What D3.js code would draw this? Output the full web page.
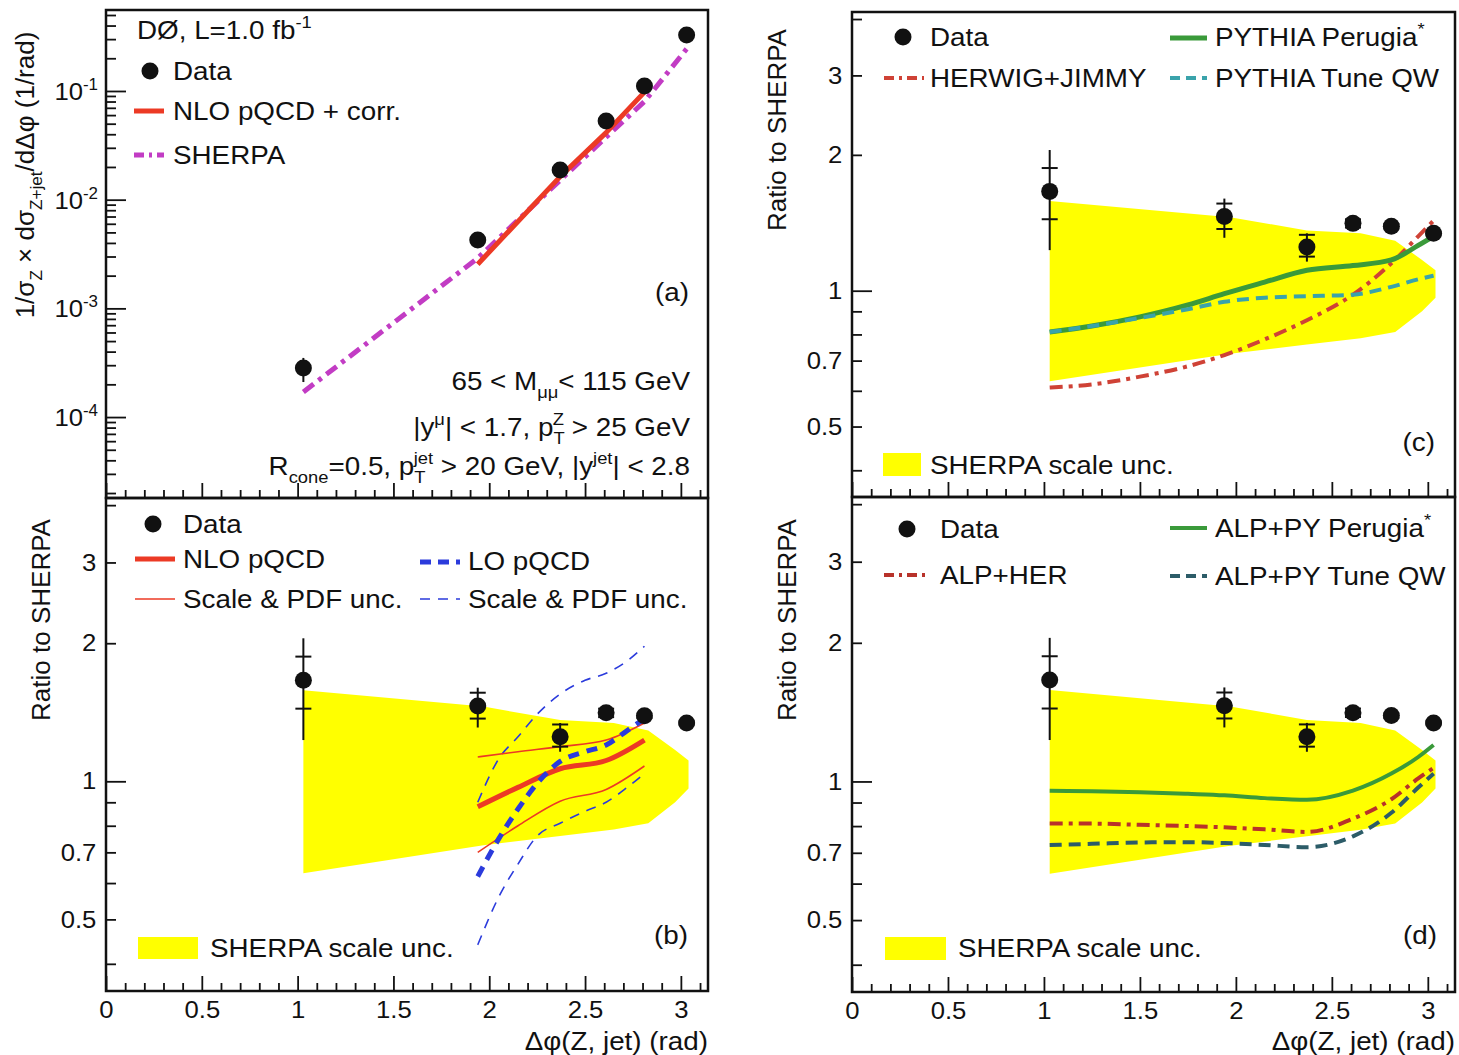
<!DOCTYPE html>
<html><head><meta charset="utf-8">
<script src="https://cdn.jsdelivr.net/npm/d3@7"></script>
<style>body{margin:0;background:#fff;} svg{display:block;}</style>
</head><body><svg id="c" width="1459" height="1055"></svg>
<script>
// ---------------- data ----------------
const phiData = [1.03, 1.94, 2.37, 2.61, 2.81, 3.03];
const xsecData = [2.83e-4, 4.26e-3, 1.875e-2, 5.3e-2, 0.111, 0.327];
const xsecDataLo = [2.1e-4, 3.8e-3, 1.75e-2, 5.1e-2, 0.109, 0.322];
const xsecDataHi = [3.5e-4, 4.7e-3, 2.0e-2, 5.5e-2, 0.113, 0.332];
const xsecSherpa = [1.70e-4, 2.9e-3, 1.51e-2, 3.76e-2, 8.0e-2, 0.244];
const phiNLOxsec = [1.94, 2.37, 2.61, 2.81];
const xsecNLO = [2.55e-3, 1.63e-2, 4.14e-2, 9.76e-2];

const ratioData = [1.66, 1.46, 1.25, 1.41, 1.39, 1.34];
const ratioTotLo = [1.23, 1.31, 1.16, 1.36, 1.36, 1.32];
const ratioTotHi = [2.05, 1.60, 1.34, 1.46, 1.42, 1.36];
const ratioStatLo = [1.44, 1.37, 1.19, 1.38, 1.375, 1.33];
const ratioStatHi = [1.87, 1.56, 1.33, 1.44, 1.405, 1.35];

const phiBand = [1.03, 1.97, 2.37, 2.65, 2.83, 2.97, 3.04];
const bandLo = [0.63, 0.725, 0.76, 0.785, 0.81, 0.9, 0.965];
const bandHi = [1.58, 1.455, 1.36, 1.34, 1.29, 1.17, 1.11];

const phiNLO = [1.94, 2.15, 2.37, 2.61, 2.81];
const nloRatio = [0.88, 0.97, 1.065, 1.11, 1.23];
const nloRatioLo = [0.70, 0.80, 0.905, 0.96, 1.08];
const nloRatioHi = [1.13, 1.16, 1.19, 1.23, 1.34];
const phiLO = [1.94, 2.05, 2.15, 2.25, 2.37, 2.5, 2.61, 2.72, 2.81];
const loRatio = [0.62, 0.75, 0.87, 0.99, 1.105, 1.16, 1.2, 1.29, 1.37];
const loRatioLo = [0.44, 0.56, 0.66, 0.76, 0.81, 0.86, 0.9, 0.97, 1.04];
const loRatioHi = [0.9, 1.12, 1.25, 1.4, 1.55, 1.66, 1.72, 1.83, 1.97];

const phiMC = [1.03, 1.25, 1.5, 1.75, 1.94, 2.15, 2.37, 2.61, 2.81, 2.95, 3.03];
const pythiaPerugia = [0.81, 0.835, 0.875, 0.93, 0.985, 1.045, 1.11, 1.137, 1.17, 1.26, 1.32];
const pythiaQW = [0.81, 0.835, 0.87, 0.91, 0.945, 0.965, 0.972, 0.98, 1.02, 1.06, 1.08];
const herwigJimmy = [0.61, 0.62, 0.645, 0.68, 0.72, 0.78, 0.86, 0.98, 1.15, 1.32, 1.43];
const alpPyPerugia = [0.955, 0.952, 0.948, 0.94, 0.933, 0.92, 0.912, 0.955, 1.04, 1.13, 1.2];
const alpHer = [0.81, 0.81, 0.805, 0.8, 0.795, 0.787, 0.777, 0.83, 0.915, 1.015, 1.07];
const alpPyQW = [0.728, 0.732, 0.737, 0.738, 0.735, 0.728, 0.72, 0.76, 0.855, 0.97, 1.04];

const xTickVals = [0, 0.5, 1, 1.5, 2, 2.5, 3];
const xTickLabels = ["0", "0.5", "1", "1.5", "2", "2.5", "3"];
const ratioTickVals = [0.5, 0.7, 1, 2, 3];
const ratioTickLabels = ["0.5", "0.7", "1", "2", "3"];
const xsecTickVals = [1e-4, 1e-3, 1e-2, 1e-1];
const xsecTickExp = ["-4", "-3", "-2", "-1"];

// ---------------- style ----------------
const FONT = "'Liberation Sans', Arial, Helvetica, sans-serif";
const SX = 1.07; // horizontal stretch of text seen in the reference
const C = {
  yellow: "#ffff00", nlo: "#ec3a25", sherpa: "#c23cc4", lo: "#2b3bdc",
  green: "#3a9a3a", teal: "#3aa3ab", herwig: "#cf4236",
  alpHer: "#b8322a", alpQW: "#2c5c68"
};
const svg = d3.select("#c");
svg.append("rect").attr("width", 1459).attr("height", 1055).attr("fill", "#fff");

const xL = d3.scaleLinear([0, Math.PI], [106, 708]);
const xR = d3.scaleLinear([0, Math.PI], [852, 1455]);
const yA = d3.scaleLog([1.8e-5, 0.556], [498, 10]);
const yB = d3.scaleLog([0.349, 4.146], [991, 498]);
const yC = d3.scaleLog([0.349, 4.146], [497, 12]);
const yD = d3.scaleLog([0.349, 4.146], [992, 497]);

function rich(sel, parts, size) {
  let shift = 0;
  parts.forEach(p => {
    const [t, m, dx] = p;
    const target = m === "sub" ? size * 0.32 : m === "sup" ? -size * 0.42 : 0;
    const fs = m ? size * 0.66 : size;
    const ts = sel.append("tspan").attr("dy", target - shift).attr("font-size", fs).text(t);
    if (dx) ts.attr("dx", dx);
    shift = target;
  });
  return sel;
}
function text(g, x, y, parts, size, anchor, rot) {
  const t = g.append("text").attr("font-family", FONT).attr("fill", "#111")
    .attr("text-anchor", anchor || "start");
  if (rot) t.attr("transform", `translate(${x},${y}) rotate(${rot})`);
  else t.attr("transform", `translate(${x},${y}) scale(${SX},1)`);
  if (typeof parts === "string") t.attr("font-size", size).text(parts);
  else { t.attr("font-size", size); rich(t, parts, size); }
  return t;
}

function frame(x, y) {
  const [x0, x1] = x.range(), [y0, y1] = y.range();
  svg.append("rect").attr("x", x0).attr("y", y1).attr("width", x1 - x0).attr("height", y0 - y1)
    .attr("fill", "none").attr("stroke", "#111").attr("stroke-width", 2.5);
}
function styleAxis(g) {
  g.select(".domain").remove();
  g.selectAll("line").attr("stroke", "#111").attr("stroke-width", 1.8);
  g.selectAll("text").attr("font-family", FONT).attr("font-size", 24).attr("fill", "#111")
    .attr("transform", `scale(${SX},1)`);
}
function xAxis(x, y, labels) {
  const y0 = y.range()[0];
  const minor = d3.range(0, 32).map(i => i / 10).filter(v => Math.abs(v * 2 - Math.round(v * 2)) > 1e-6);
  const gm = svg.append("g").attr("transform", `translate(0,${y0})`)
    .call(d3.axisBottom(x).tickValues(minor).tickSizeInner(-8).tickSizeOuter(0).tickFormat(""));
  const gM = svg.append("g").attr("transform", `translate(0,${y0})`)
    .call(d3.axisBottom(x).tickValues(xTickVals).tickSizeInner(-15).tickSizeOuter(0).tickPadding(10)
      .tickFormat((d, i) => labels ? xTickLabels[i] : ""));
  [gm, gM].forEach(styleAxis);
}
function ratioYAxis(x, y) {
  const x0 = x.range()[0];
  const minor = [0.4, 0.5, 0.6, 0.7, 0.8, 0.9, 2, 3, 4];
  const gm = svg.append("g").attr("transform", `translate(${x0},0)`)
    .call(d3.axisLeft(y).tickValues(minor).tickSizeInner(-10).tickSizeOuter(0).tickFormat(""));
  const gM = svg.append("g").attr("transform", `translate(${x0},0)`)
    .call(d3.axisLeft(y).tickValues([1]).tickSizeInner(-20).tickSizeOuter(0).tickFormat(""));
  const gl = svg.append("g").attr("transform", `translate(${x0},0)`)
    .call(d3.axisLeft(y).tickValues(ratioTickVals).tickSize(0).tickPadding(9)
      .tickFormat((d, i) => ratioTickLabels[i]));
  [gm, gM, gl].forEach(styleAxis);
}
function xsecYAxis(x, y) {
  const x0 = x.range()[0];
  const all = [];
  for (let e = -5; e <= -1; e++) for (let k = 1; k <= 9; k++) {
    const v = k * Math.pow(10, e);
    if (v >= 1.8e-5 && v <= 0.556) all.push(v);
  }
  const minor = all.filter(v => Math.abs(Math.log10(v) - Math.round(Math.log10(v))) > 1e-6);
  const gm = svg.append("g").attr("transform", `translate(${x0},0)`)
    .call(d3.axisLeft(y).tickValues(minor).tickSizeInner(-10).tickSizeOuter(0).tickFormat(""));
  const gM = svg.append("g").attr("transform", `translate(${x0},0)`)
    .call(d3.axisLeft(y).tickValues(xsecTickVals).tickSizeInner(-20).tickSizeOuter(0).tickFormat(""));
  [gm, gM].forEach(styleAxis);
  xsecTickVals.forEach((v, i) => {
    text(svg, x0 - 8, y(v) + 9, [["10"], [xsecTickExp[i], "sup"]], 24, "end");
  });
}

function band(x, y) {
  const area = d3.area().x((d, i) => x(phiBand[i])).y0((d, i) => y(bandLo[i])).y1((d, i) => y(bandHi[i]));
  svg.append("path").attr("d", area(phiBand)).attr("fill", C.yellow).attr("stroke", "none");
}
function curve(x, y, xs, ys, color, width, dash, curveType) {
  const line = d3.line().x((d, i) => x(xs[i])).y((d, i) => y(ys[i])).curve(curveType || d3.curveMonotoneX);
  const p = svg.append("path").attr("d", line(xs)).attr("fill", "none").attr("stroke", color)
    .attr("stroke-width", width).attr("stroke-linejoin", "round");
  if (dash) p.attr("stroke-dasharray", dash);
  return p;
}
function points(x, y, vals, lo, hi, slo, shi) {
  const g = svg.append("g");
  vals.forEach((v, i) => {
    const cx = x(phiData[i]);
    g.append("line").attr("x1", cx).attr("x2", cx).attr("y1", y(lo[i])).attr("y2", y(hi[i]))
      .attr("stroke", "#111").attr("stroke-width", 2);
    if (slo) [slo[i], shi[i]].forEach(s => {
      g.append("line").attr("x1", cx - 8).attr("x2", cx + 8).attr("y1", y(s)).attr("y2", y(s))
        .attr("stroke", "#111").attr("stroke-width", 2);
    });
    g.append("circle").attr("cx", cx).attr("cy", y(v)).attr("r", 8.5).attr("fill", "#111");
  });
}

// legend helpers
function legLine(x1, x2, yy, color, width, dash) {
  const l = svg.append("line").attr("x1", x1).attr("x2", x2).attr("y1", yy).attr("y2", yy)
    .attr("stroke", color).attr("stroke-width", width);
  if (dash) l.attr("stroke-dasharray", dash);
}
function legDot(cx, cy) { svg.append("circle").attr("cx", cx).attr("cy", cy).attr("r", 8.5).attr("fill", "#111"); }
function legBox(x1, x2, y1, y2) {
  svg.append("rect").attr("x", x1).attr("y", y1).attr("width", x2 - x1).attr("height", y2 - y1).attr("fill", C.yellow);
}
const FS = 26, BL = 9;
const DASHDOT = "13,6,4,6";
const DASH = "12,7";

// ---------------- panel (a) ----------------
curve(xL, yA, phiData, xsecSherpa, C.sherpa, 5, DASHDOT, d3.curveLinear);
curve(xL, yA, phiNLOxsec, xsecNLO, C.nlo, 5, null, d3.curveLinear);
points(xL, yA, xsecData, xsecDataLo, xsecDataHi);
frame(xL, yA);
xAxis(xL, yA, false);
xsecYAxis(xL, yA);
text(svg, 137, 39, [["DØ, L=1.0 fb"], ["-1", "sup"]], FS);
legDot(150, 71); text(svg, 173, 71 + BL, "Data", FS);
legLine(134, 164, 111, C.nlo, 5); text(svg, 173, 111 + BL, "NLO pQCD + corr.", FS);
legLine(134, 164, 155, C.sherpa, 5, "10,5,3,5"); text(svg, 173, 155 + BL, "SHERPA", FS);
text(svg, 689, 292 + BL, "(a)", FS, "end");
text(svg, 690, 390, [["65 < M"], ["μμ", "sub"], ["< 115 GeV"]], FS, "end");
text(svg, 690, 436, [["|y"], ["μ", "sup"], ["| < 1.7, p"], ["T", "sub"], ["Z", "sup", -11], [" > 25 GeV"]], FS, "end");
text(svg, 690, 475, [["R"], ["cone", "sub"], ["=0.5,  p"], ["T", "sub"], ["jet", "sup", -11], [" > 20 GeV,  |y"], ["jet", "sup"], ["| < 2.8"]], FS, "end");
text(svg, 34, 175, [["1/σ"], ["Z", "sub"], [" × dσ"], ["Z+jet", "sub"], ["/dΔφ (1/rad)"]], FS, "middle", -90);

// ---------------- panel (b) ----------------
band(xL, yB);
curve(xL, yB, phiLO, loRatioHi, C.lo, 1.6, "10,8");
curve(xL, yB, phiLO, loRatioLo, C.lo, 1.6, "10,8");
curve(xL, yB, phiNLO, nloRatioHi, C.nlo, 1.6);
curve(xL, yB, phiNLO, nloRatioLo, C.nlo, 1.6);
curve(xL, yB, phiNLO, nloRatio, C.nlo, 5);
curve(xL, yB, phiLO, loRatio, C.lo, 5, "11,8");
points(xL, yB, ratioData, ratioTotLo, ratioTotHi, ratioStatLo, ratioStatHi);
frame(xL, yB);
xAxis(xL, yB, true);
ratioYAxis(xL, yB);
legDot(153, 524); text(svg, 183, 524 + BL, "Data", FS);
legLine(135, 175, 559, C.nlo, 5); text(svg, 183, 559 + BL, "NLO pQCD", FS);
legLine(420, 460, 562, C.lo, 5, "11,7"); text(svg, 468, 561 + BL, "LO pQCD", FS);
legLine(135, 175, 599, C.nlo, 1.6); text(svg, 183, 599 + BL, "Scale & PDF unc.", FS);
legLine(420, 460, 599, C.lo, 1.6, "10,8"); text(svg, 468, 599 + BL, "Scale & PDF unc.", FS);
legBox(138, 198, 937, 959); text(svg, 210, 948 + BL, "SHERPA scale unc.", FS);
text(svg, 688, 935 + BL, "(b)", FS, "end");
text(svg, 50, 620, "Ratio to SHERPA", FS, "middle", -90);
text(svg, 708, 1050, "Δφ(Z, jet) (rad)", FS, "end");

// ---------------- panel (c) ----------------
band(xR, yC);
curve(xR, yC, phiMC, herwigJimmy, C.herwig, 4, DASHDOT);
curve(xR, yC, phiMC, pythiaPerugia, C.green, 5);
curve(xR, yC, phiMC, pythiaQW, C.teal, 4, DASH);
points(xR, yC, ratioData, ratioTotLo, ratioTotHi, ratioStatLo, ratioStatHi);
frame(xR, yC);
xAxis(xR, yC, false);
ratioYAxis(xR, yC);
legDot(903, 37); text(svg, 930, 37 + BL, "Data", FS);
legLine(1170, 1207, 38, C.green, 5); text(svg, 1215, 37 + BL, [["PYTHIA Perugia"], ["*", "sup"]], FS);
legLine(884, 924, 78, C.herwig, 4, "10,5,3,5"); text(svg, 930, 78 + BL, "HERWIG+JIMMY", FS);
legLine(1170, 1207, 78, C.teal, 4, "10,6"); text(svg, 1215, 78 + BL, "PYTHIA Tune QW", FS);
legBox(883, 921, 453, 476); text(svg, 930, 465 + BL, "SHERPA scale unc.", FS);
text(svg, 1435, 442 + BL, "(c)", FS, "end");
text(svg, 786, 130, "Ratio to SHERPA", FS, "middle", -90);

// ---------------- panel (d) ----------------
band(xR, yD);
curve(xR, yD, phiMC, alpPyPerugia, C.green, 4);
curve(xR, yD, phiMC, alpHer, C.alpHer, 4, DASHDOT);
curve(xR, yD, phiMC, alpPyQW, C.alpQW, 4, DASH);
points(xR, yD, ratioData, ratioTotLo, ratioTotHi, ratioStatLo, ratioStatHi);
frame(xR, yD);
xAxis(xR, yD, true);
ratioYAxis(xR, yD);
legDot(907, 529); text(svg, 940, 529 + BL, "Data", FS);
legLine(1170, 1207, 528, C.green, 4); text(svg, 1215, 528 + BL, [["ALP+PY Perugia"], ["*", "sup"]], FS);
legLine(884, 930, 575, C.alpHer, 4, "10,5,3,5"); text(svg, 940, 575 + BL, "ALP+HER", FS);
legLine(1170, 1207, 576, C.alpQW, 4, "10,6"); text(svg, 1215, 576 + BL, "ALP+PY Tune QW", FS);
legBox(885, 946, 937, 960); text(svg, 958, 948 + BL, "SHERPA scale unc.", FS);
text(svg, 1437, 935 + BL, "(d)", FS, "end");
text(svg, 796, 620, "Ratio to SHERPA", FS, "middle", -90);
text(svg, 1455, 1050, "Δφ(Z, jet) (rad)", FS, "end");
</script></body></html>
